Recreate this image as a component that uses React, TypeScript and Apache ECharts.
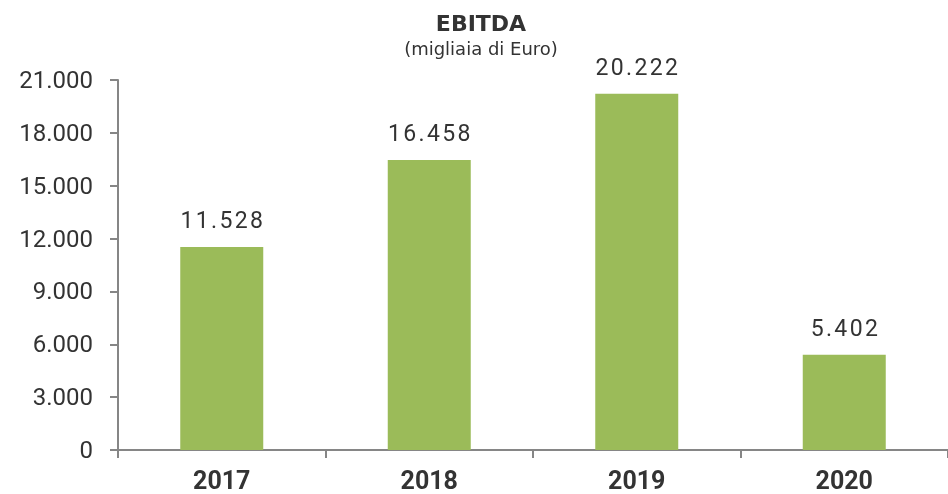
import React, { useEffect, useRef } from "react";
import * as echarts from "echarts";

const categories = ["2017", "2018", "2019", "2020"];
const ebitda = [11528, 16458, 20222, 5402];
const titleText = "EBITDA";
const subtitleText = "(migliaia di Euro)";

const fmt = (v: number) => {
  const s = Math.round(v).toString();
  return s.replace(/\B(?=(\d{3})+(?!\d))/g, ".");
};

export default function App() {
  const ref = useRef<HTMLDivElement>(null);
  useEffect(() => {
    if (!ref.current) return;
    const chart = echarts.init(ref.current, null, { renderer: "svg" });
    chart.setOption({
      animation: false,
      title: {
        text: titleText,
        subtext: subtitleText,
        left: 476,
        textAlign: "center",
        top: 7,
        itemGap: 5,
        textStyle: { fontFamily: "DejaVu Sans", fontSize: 22, fontWeight: "bold", color: "#333" },
        subtextStyle: { fontFamily: "DejaVu Sans", fontSize: 18, color: "#333" },
      },
      grid: { left: 118, right: 0, top: 80, bottom: 44, containLabel: false },
      xAxis: {
        type: "category",
        data: categories,
        axisLine: { lineStyle: { color: "#868686", width: 2 } },
        axisTick: { show: true, length: 8, lineStyle: { color: "#868686", width: 2 } },
        axisLabel: { fontFamily: "Roboto", fontSize: 25, fontWeight: "bold", color: "#333", margin: 18 },
      },
      yAxis: {
        type: "value",
        min: 0,
        max: 21000,
        interval: 3000,
        axisLine: { show: true, lineStyle: { color: "#868686", width: 2 } },
        axisTick: { show: true, length: 8, lineStyle: { color: "#868686", width: 2 } },
        splitLine: { show: false },
        axisLabel: {
          fontFamily: "Roboto",
          fontSize: 24,
          color: "#333",
          margin: 25,
          formatter: (v: number) => fmt(v),
        },
      },
      series: [
        {
          type: "bar",
          data: ebitda,
          barWidth: "40%",
          itemStyle: { color: "#9BBB59" },
          label: {
            show: true,
            position: "top",
            distance: 15,
            fontFamily: "Roboto",
            fontSize: 23,
            color: "#333",
            formatter: (p: any) => fmt(p.value).split("").join("\u200A"),
          },
        },
      ],
    });
    return () => chart.dispose();
  }, []);
  return (
    <div
      ref={ref}
      style={{ position: "fixed", left: 0, top: 0, width: 948, height: 494 }}
    />
  );
}
